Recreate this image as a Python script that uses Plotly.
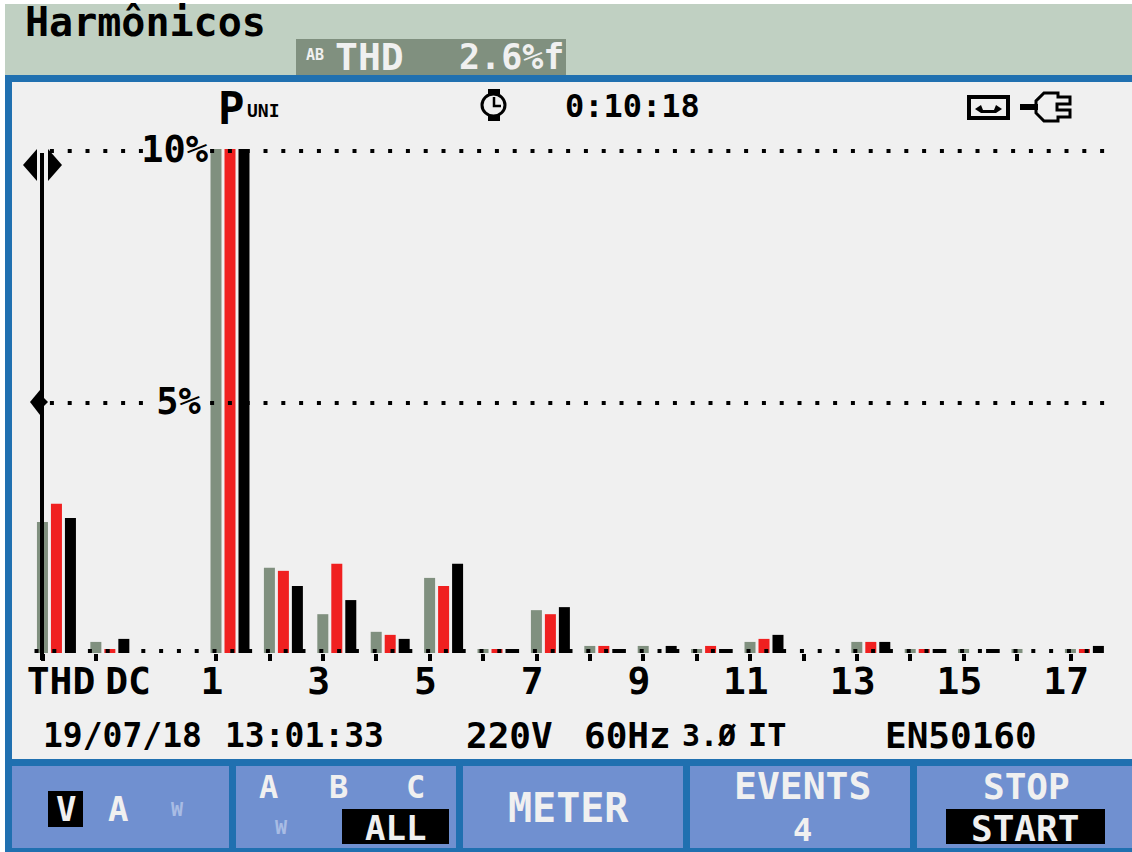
import plotly.graph_objects as go

W, H = 1132, 852

# ---------- data ----------
categories = ["THD", "DC"] + [str(h) for h in range(1, 18)]
category_x = [-2.25, -1.25] + list(range(1, 18))
phase_a = [2.60, 0.22, 10, 1.69, 0.77, 0.42, 1.49, 0.08, 0.85, 0.14, 0.14, 0.08, 0.22, 0.00, 0.22, 0.08, 0.08, 0.08, 0.08]
phase_b = [2.96, 0.08, 10, 1.63, 1.77, 0.36, 1.33, 0.08, 0.77, 0.14, 0.00, 0.14, 0.28, 0.00, 0.22, 0.08, 0.00, 0.00, 0.08]
phase_c = [2.68, 0.28, 10, 1.33, 1.05, 0.28, 1.77, 0.08, 0.91, 0.08, 0.14, 0.08, 0.36, 0.00, 0.22, 0.08, 0.08, 0.00, 0.14]
x_labels = ["THD", "DC", "1", "3", "5", "7", "9", "11", "13", "15", "17"]
x_label_pos = [-2.165, -0.91, 0.66, 2.66, 4.66, 6.66, 8.66, 10.66, 12.66, 14.66, 16.66]
y_tick_vals = [5, 10]
y_tick_text = ["5%<span style='font-size:12px'>\u00a0</span>", "10%"]

# ---------- colours ----------
BLUE = "#2070B0"
HEAD = "#C0D0C2"
PANEL = "#F0F0F0"
BTN = "#7090D0"
GRAY = "#80907F"
RED = "#F02020"
BLACK = "#000000"
FONT = "DejaVu Sans Mono"

# ---------- axis mapping ----------
X0 = 176.6     # pixel of x=0
PITCH = 53.4   # pixels per harmonic
BASE_Y, TOP_Y = 653, 149


def fx(p):
    return p / W


def fy(p):
    return 1 - p / H


def rect(x0, y0, x1, y1, color, layer="below"):
    return dict(type="rect", xref="paper", yref="paper", x0=fx(x0), x1=fx(x1), y0=fy(y0), y1=fy(y1),
                fillcolor=color, line_width=0, layer=layer)


def poly(points, color="#000000", close=True, fill=True, lw=0):
    path = "M " + " L ".join(f"{fx(a):.5f},{fy(b):.5f}" for a, b in points) + (" Z" if close else "")
    return dict(type="path", xref="paper", yref="paper", path=path,
                fillcolor=color if fill else "rgba(0,0,0,0)",
                line=dict(color=color, width=lw), layer="above")


def txt(s, x, y, size, color=BLACK, anchor="center", weight=700):
    return dict(text=s, x=fx(x), y=fy(y), xref="paper", yref="paper", showarrow=False,
                xanchor=anchor, yanchor="middle", borderpad=0, borderwidth=0,
                font=dict(family=FONT, size=size, color=color, weight=weight))


fig = go.Figure()
for name, vals, col in (("A", phase_a, GRAY), ("B", phase_b, RED), ("C", phase_c, BLACK)):
    fig.add_trace(go.Bar(x=category_x, y=vals, name=name, marker=dict(color=col, line_width=0),
                         xaxis="x", yaxis="y"))

# dotted graticule rows: one dot every third of a harmonic
skip = {-3, -2, -1}
top_x = [0.665 + k / 3 for k in range(-9, 51) if k not in skip]
base_x = [0.71 + k / 3 for k in range(-10, 50)]
gx = top_x + top_x + base_x
gy = [9.96] * len(top_x) + [4.96] * len(top_x) + [0.04] * len(base_x)
fig.add_trace(go.Scatter(x=gx, y=gy, mode="markers", showlegend=False, cliponaxis=False,
                         marker=dict(symbol="square", size=4, color=BLACK, line_width=0),
                         xaxis="x", yaxis="y"))
# invisible carrier so the label axis is drawn
fig.add_trace(go.Scatter(x=x_label_pos, y=[0] * len(x_label_pos), mode="markers", showlegend=False,
                         marker=dict(size=1, opacity=0), xaxis="x2", yaxis="y"))

tick_pos = [c - 0.26 for c in category_x]

shapes = [
    rect(5, 4, W, 75, HEAD),
    rect(296, 39, 566, 75, GRAY),
    rect(5, 75, W, 852, BLUE),
    rect(12, 82, W, 759, PANEL),
    rect(12, 766, 229, 848, BTN),
    rect(236, 766, 456, 848, BTN),
    rect(463, 766, 683, 848, BTN),
    rect(690, 766, 910, 848, BTN),
    rect(917, 766, W, 848, BTN),
    rect(48, 791, 83, 827, BLACK),
    rect(342, 809, 449, 844, BLACK),
    rect(946, 809, 1105, 844, BLACK),
    # cursor
    rect(40, 153, 44, 660, BLACK, layer="above"),
    poly([(23, 165), (37, 149), (37, 181)]),
    poly([(62, 165), (48, 149), (48, 181)]),
    poly([(30, 402), (40, 390), (40, 415)]),
    poly([(48, 402), (44, 398), (44, 406)]),
    # clock
    dict(type="circle", xref="paper", yref="paper", x0=fx(482), x1=fx(505), y0=fy(116), y1=fy(94),
         line=dict(color=BLACK, width=3), fillcolor="rgba(0,0,0,0)", layer="above"),
    rect(488, 89, 500, 94, BLACK, "above"),
    rect(488, 115, 500, 121, BLACK, "above"),
    poly([(494, 97), (494, 106), (501, 106)], close=False, fill=False, lw=2.5),
    # recorder icon
    dict(type="rect", xref="paper", yref="paper", x0=fx(969), x1=fx(1008), y0=fy(118), y1=fy(97),
         line=dict(color=BLACK, width=4), fillcolor="rgba(0,0,0,0)", layer="above"),
    poly([(975, 109), (981, 105), (983, 110), (994, 110), (996, 105), (1002, 109), (996, 113), (981, 113)]),
    # plug icon
    rect(1020, 104, 1038, 110, BLACK, "above"),
    poly([(1070, 97), (1058, 97), (1058, 93), (1044, 93), (1036, 101), (1036, 113), (1044, 121),
          (1058, 121), (1058, 117), (1070, 117), (1070, 110), (1057, 110), (1057, 104), (1070, 104)],
         close=True, fill=False, lw=3),
]

annotations = [
    txt("Harmônicos", 145, 22, 40),
    txt("AB", 315, 55, 15, PANEL),
    txt("THD", 369, 57, 38, PANEL),
    txt("2.6%f", 511, 57, 35, PANEL),
    txt("P", 231, 108, 44),
    txt("UNI", 263, 111, 18),
    txt("0:10:18", 632, 106, 32),
    txt("19/07/18", 122, 735, 33),
    txt("13:01:33", 304, 735, 33),
    txt("220V", 509, 735, 36),
    txt("60Hz", 628, 735, 36),
    txt("3.Ø", 709, 735, 30),
    txt("IT", 767, 735, 32),
    txt("EN50160", 961, 735, 36),
    txt("V", 66, 809, 34, PANEL),
    txt("A", 118, 809, 34, PANEL),
    txt("W", 177, 809, 20, "#A8BCE4"),
    txt("A", 268, 787, 32, PANEL),
    txt("B", 338, 787, 32, PANEL),
    txt("C", 415, 787, 32, PANEL),
    txt("W", 281, 827, 20, "#A8BCE4"),
    txt("ALL", 395, 828, 34, PANEL),
    txt("METER", 568, 808, 40, PANEL),
    txt("EVENTS", 802, 786, 38, PANEL),
    txt("4", 802, 830, 32, PANEL),
    txt("STOP", 1026, 786, 36, PANEL),
    txt("START", 1025, 828, 36, PANEL),
]

x_range = [-X0 / PITCH, (W - X0) / PITCH]
fig.update_layout(
    width=W, height=H, margin=dict(l=0, r=0, t=0, b=0, pad=0, autoexpand=False),
    paper_bgcolor="#FFFFFF", plot_bgcolor="rgba(0,0,0,0)",
    showlegend=False, barmode="group", bargap=0.214, bargroupgap=0.214,
    shapes=shapes, annotations=annotations,
    xaxis=dict(domain=[0, 1], range=x_range, anchor="y", showgrid=False, zeroline=False, showline=False,
               tickmode="array", tickvals=tick_pos, ticktext=[""] * len(tick_pos), ticks="outside",
               ticklen=7, tickwidth=4, tickcolor=BLACK, showticklabels=False, fixedrange=True),
    xaxis2=dict(domain=[0, 1], range=x_range, anchor="y", overlaying="x", side="bottom", showgrid=False,
                zeroline=False, showline=False, tickmode="array", tickvals=x_label_pos, ticktext=x_labels,
                ticks="", ticklen=0, ticklabelstandoff=2,
                tickfont=dict(family=FONT, size=38, color=BLACK, weight=700), tickangle=0, fixedrange=True),
    yaxis=dict(domain=[fy(BASE_Y), fy(TOP_Y)], range=[0, 10], anchor="free", position=fx(208), side="left",
               showgrid=False, zeroline=False, showline=False, tickmode="array", tickvals=y_tick_vals,
               ticktext=y_tick_text, ticks="", ticklabelstandoff=0,
               tickfont=dict(family=FONT, size=37, color=BLACK, weight=700), fixedrange=True),
)

fig.write_html("out.html", post_script="document.body.style.margin='0';document.body.style.overflow='hidden';",
               config={"displayModeBar": False})
